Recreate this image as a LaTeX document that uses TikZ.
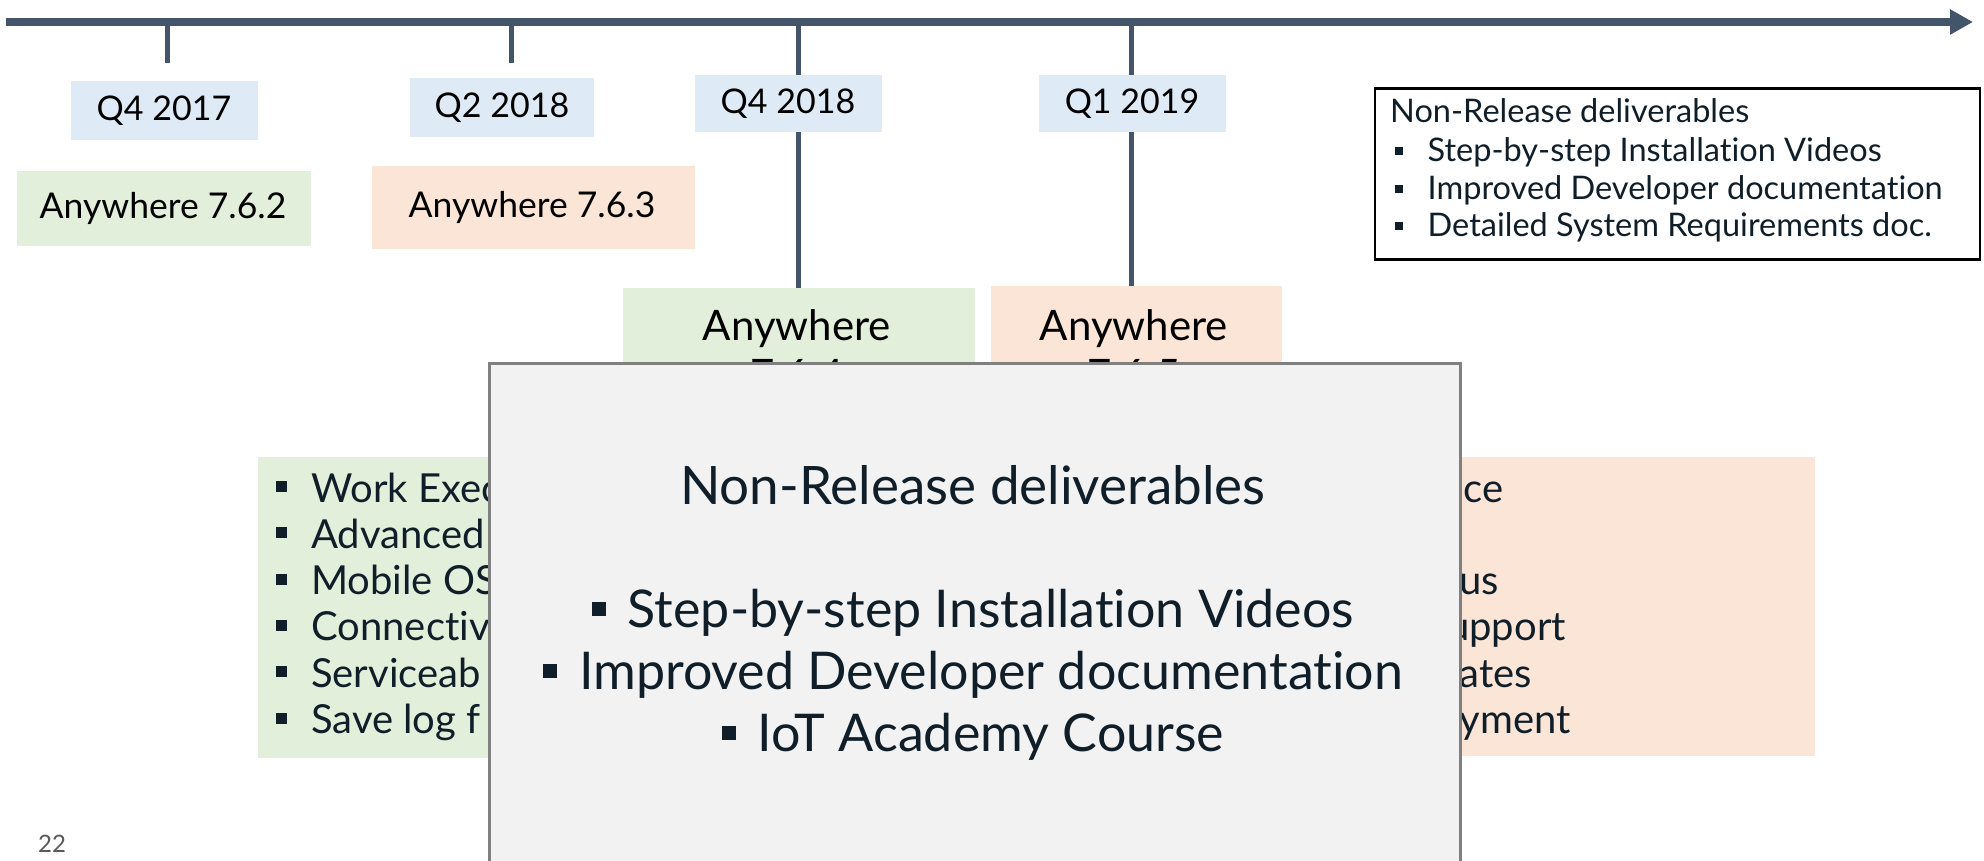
\documentclass[tikz,border=0pt]{standalone}
\usepackage{fontspec}
\setmainfont{Lato}[Ligatures={NoCommon,NoRare,NoContextual}]
\usetikzlibrary{arrows.meta}
\definecolor{axisc}{HTML}{44546A}
\definecolor{lblue}{HTML}{DEEBF7}
\definecolor{lgreen}{HTML}{E2EFDA}
\definecolor{lpeach}{HTML}{FBE5D6}
\definecolor{gfill}{HTML}{F2F2F2}
\definecolor{gline}{HTML}{808080}
\definecolor{txtc}{HTML}{0F1E29}
\definecolor{pgc}{HTML}{595959}
\newcommand{\fsz}[1]{\fontsize{#1}{#1}\selectfont}
\newcommand{\sqbul}[2]{\raisebox{#2}{\rule{#1}{#1}}}
\tikzset{
  axisline/.style={draw=axisc, line width=7.5pt},
  tickline/.style={draw=axisc, line width=5pt},
  qlabel/.style={fill=lblue, inner sep=0pt, minimum width=187pt, minimum height=58pt},
  relgreen/.style={fill=lgreen, inner sep=0pt},
  relpeach/.style={fill=lpeach, inner sep=0pt},
  greybox/.style={fill=gfill, draw=gline, line width=2.5pt, inner sep=0pt},
  trbox/.style={draw=black, line width=2.5pt, fill=white, inner sep=0pt},
  txt/.style={inner sep=0pt, text=txtc},
  btxt/.style={inner sep=0pt, text=black},
}
\begin{document}
\begin{tikzpicture}[x=1pt,y=-1pt]
\useasboundingbox[fill=white] (0,0) rectangle (1984,860);

% axis
\coordinate (a0) at (6,22);
\coordinate (a1) at (1973,22);
\draw[axisline, -{Triangle[length=23pt,width=24pt]}] (a0) -- (a1);

% ticks
\coordinate (t1) at (167,22); \coordinate (t1e) at (167,63);
\coordinate (t2) at (511,22); \coordinate (t2e) at (511,63);
\coordinate (t3) at (798,22);
\coordinate (t4) at (1131,22);

% release boxes (lower ones first, under the lines' ends)
\node[relgreen, anchor=north west, minimum width=352pt, minimum height=140pt] (r3) at (623,288) {};
\node[relpeach, anchor=north west, minimum width=291pt, minimum height=140pt] (r4) at (991,286) {};

\draw[tickline] (t1) -- (t1e);
\draw[tickline] (t2) -- (t2e);
\draw[tickline] (t3) -- (t3 |- r3.north);
\draw[tickline] (t4) -- (t4 |- r4.north);

% quarter labels
\node[qlabel, minimum height=59pt] (q1) at (164.5,110.5) {};
\node[qlabel, minimum width=184pt, minimum height=59pt] (q2) at (502,107.5) {};
\node[qlabel, minimum height=57pt] (q3) at (788.5,103.5) {};
\node[qlabel, minimum height=57pt] (q4) at (1132.5,103.5) {};
\node[btxt, anchor=base, font=\fsz{34}] (q1t) at (164,120) {Q4 2017};
\node[btxt, anchor=base, font=\fsz{34}] (q2t) at (502,117) {Q2 2018};
\node[btxt, anchor=base, font=\fsz{34}] (q3t) at (788,113) {Q4 2018};
\node[btxt, anchor=base, font=\fsz{34}] (q4t) at (1132,113) {Q1 2019};

% upper release boxes
\node[relgreen, anchor=north west, minimum width=294pt, minimum height=75pt] (r1) at (17,171) {};
\node[relpeach, anchor=north west, minimum width=323pt, minimum height=83pt] (r2) at (372,166) {};
\node[btxt, anchor=base, font=\fsz{35.5}] (r1t) at (163,218) {Anywhere 7.6.2};
\node[btxt, anchor=base, font=\fsz{35.5}] (r2t) at (532,217) {Anywhere 7.6.3};
\node[btxt, anchor=base, font=\fsz{42}] (r3t) at (797,340) {Anywhere};
\node[btxt, anchor=base, font=\fsz{42}] (r3u) at (797,389) {7.6.4};
\node[btxt, anchor=base, font=\fsz{42}] (r4t) at (1134,340) {Anywhere};
\node[btxt, anchor=base, font=\fsz{42}] (r4u) at (1134,389) {7.6.5};

% list boxes
\node[relgreen, anchor=north west, minimum width=400pt, minimum height=301pt] (lg) at (258,457) {};
\node[relpeach, anchor=north east, minimum width=500pt, minimum height=299pt] (lp) at (1815,457) {};
\foreach \t [count=\i from 0] in {Work Exec,Advanced,Mobile OS,Connectiv,Serviceab,Save log f}{
  \node[txt, anchor=base west, font=\fsz{40}] (gl\i) at (276,502+46.3*\i) {\sqbul{11pt}{10pt}\hspace{24pt}\t};
}
\node[txt, anchor=base east, font=\fsz{40}] (pl0) at (1504,502) {nce};
\node[txt, anchor=base east, font=\fsz{40}] (pl2) at (1499,594.6) {atus};
\node[txt, anchor=base east, font=\fsz{40}] (pl3) at (1566,640.9) {Support};
\node[txt, anchor=base east, font=\fsz{40}] (pl4) at (1532,687.2) {dates};
\node[txt, anchor=base east, font=\fsz{40}] (pl5) at (1571,733.5) {oyment};

% grey overlay
\node[greybox, anchor=north west, minimum width=971pt, minimum height=540pt] (gb) at (488,362) {};
\node[txt, anchor=base, font=\fsz{53}] (gbt) at (973,504) {Non-Release deliverables};
\node[txt, anchor=base, font=\fsz{52}] (gb1) at (973,627) {\sqbul{14pt}{11pt}\hspace{22pt}Step-by-step Installation Videos};
\node[txt, anchor=base, font=\fsz{52}] (gb2) at (973,689) {\sqbul{14pt}{11pt}\hspace{22pt}Improved Developer documentation};
\node[txt, anchor=base, font=\fsz{52}] (gb3) at (973,751) {\sqbul{14pt}{11pt}\hspace{22pt}IoT Academy Course};

% top-right box
\node[trbox, anchor=north west, minimum width=605pt, minimum height=171pt] (tr) at (1373.5,87) {};
\node[txt, anchor=base west, font=\fsz{32.5}] (trt) at (1390,122) {Non-Release deliverables};
\node[txt, anchor=base west, font=\fsz{32.5}] (tr1) at (1395,161.5) {\sqbul{7.5pt}{7pt}\hspace{25pt}Step-by-step Installation Videos};
\node[txt, anchor=base west, font=\fsz{32.5}] (tr2) at (1395,199.5) {\sqbul{7.5pt}{7pt}\hspace{25pt}Improved Developer documentation};
\node[txt, anchor=base west, font=\fsz{32.5}] (tr3) at (1395,236.5) {\sqbul{7.5pt}{7pt}\hspace{25pt}Detailed System Requirements doc.};

% page number
\node[inner sep=0pt, text=pgc, anchor=base west, font=\fsz{24}] (pg) at (38,852) {22};
\end{tikzpicture}
\end{document}
